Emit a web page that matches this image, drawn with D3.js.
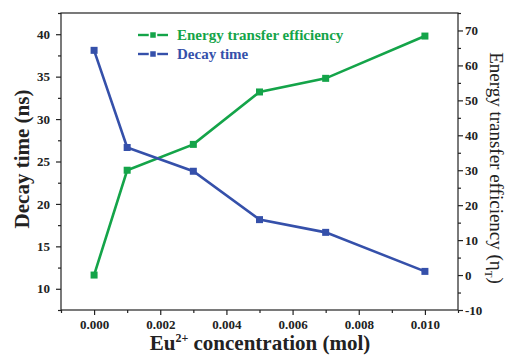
<!DOCTYPE html>
<html>
<head>
<meta charset="utf-8">
<script src="https://cdn.jsdelivr.net/npm/d3@7/dist/d3.min.js"></script>
<style>
  html, body { margin: 0; padding: 0; background: #fff; }
  svg { display: block; }
  text { font-family: "Liberation Serif", "Times New Roman", serif; }
</style>
</head>
<body>
<svg id="chart" width="506" height="356"></svg>
<script>
// Eu2+ concentration (mol)
const concentration = [0.000, 0.001, 0.003, 0.005, 0.007, 0.010];
// Decay time (ns), left axis
const decayTime = [38.1, 26.65, 23.85, 18.15, 16.65, 12.05];
// Energy transfer efficiency (%), right axis
const efficiency = [0.0, 30.0, 37.4, 52.4, 56.3, 68.4];

const xTicks = [0.000, 0.002, 0.004, 0.006, 0.008, 0.010];
const leftTicks = [10, 15, 20, 25, 30, 35, 40];
const rightTicks = [-10, 0, 10, 20, 30, 40, 50, 60, 70];

const GREEN = "#14a449";
const BLUE = "#3550aa";
const SERIF = "'Liberation Serif', 'Times New Roman', serif";

const svg = d3.select("#chart");
const m = { left: 61, right: 458, top: 13, bottom: 310 };

const x = d3.scaleLinear().domain([-0.001, 0.011]).range([m.left, m.right]);
const yL = d3.scaleLinear().domain([7.5, 42.5]).range([m.bottom, m.top]);
const yR = d3.scaleLinear().domain([-10, 75]).range([m.bottom, m.top]);

// minor ticks
const minorX = d3.range(-0.001, 0.0111, 0.002).map(v => +v.toFixed(4));
const minorL = d3.range(7.5, 42.6, 5);
const minorR = d3.range(-5, 75.1, 10);

function styleAxis(g) {
  g.attr("font-family", SERIF).attr("font-size", 13).attr("font-weight", "bold");
  g.selectAll("path").remove();
  g.selectAll("line").attr("stroke", "#222").attr("stroke-width", 1.2);
  g.selectAll("text").attr("fill", "#222");
}

// bottom axis
svg.append("g").attr("transform", `translate(0,${m.bottom})`)
  .call(d3.axisBottom(x).tickValues(minorX).tickSize(3).tickFormat(""))
  .call(styleAxis);
svg.append("g").attr("transform", `translate(0,${m.bottom})`)
  .call(d3.axisBottom(x).tickValues(xTicks).tickSize(5).tickPadding(5).tickFormat(d3.format(".3f")))
  .call(styleAxis);

// left axis
svg.append("g").attr("transform", `translate(${m.left},0)`)
  .call(d3.axisLeft(yL).tickValues(minorL).tickSize(3).tickFormat(""))
  .call(styleAxis);
svg.append("g").attr("transform", `translate(${m.left},0)`)
  .call(d3.axisLeft(yL).tickValues(leftTicks).tickSize(5).tickPadding(6))
  .call(styleAxis);

// right axis
svg.append("g").attr("transform", `translate(${m.right},0)`)
  .call(d3.axisRight(yR).tickValues(minorR).tickSize(3).tickFormat(""))
  .call(styleAxis);
svg.append("g").attr("transform", `translate(${m.right},0)`)
  .call(d3.axisRight(yR).tickValues(rightTicks).tickSize(5).tickPadding(2).tickFormat(d => d < 0 ? "-" + Math.abs(d) : d))
  .call(styleAxis);

// frame
svg.append("rect")
  .attr("x", m.left).attr("y", m.top)
  .attr("width", m.right - m.left).attr("height", m.bottom - m.top)
  .attr("fill", "none").attr("stroke", "#222").attr("stroke-width", 1.2);

// series
function drawSeries(vals, yScale, color) {
  const pts = concentration.map((c, i) => [x(c), yScale(vals[i])]);
  svg.append("path")
    .attr("d", d3.line()(pts))
    .attr("fill", "none").attr("stroke", color).attr("stroke-width", 2.6);
  svg.append("g").selectAll("rect").data(pts).join("rect")
    .attr("x", d => d[0] - 3.5).attr("y", d => d[1] - 3.5)
    .attr("width", 7).attr("height", 7).attr("fill", color);
}
drawSeries(efficiency, yR, GREEN);
drawSeries(decayTime, yL, BLUE);

// legend
const legend = [
  { label: "Energy transfer efficiency", color: GREEN, y: 35 },
  { label: "Decay time", color: BLUE, y: 54 }
];
legend.forEach(d => {
  svg.append("line").attr("x1", 138).attr("x2", 168).attr("y1", d.y).attr("y2", d.y)
    .attr("stroke", d.color).attr("stroke-width", 2.4);
  svg.append("rect").attr("x", 149.5).attr("y", d.y - 3.5).attr("width", 7).attr("height", 7)
    .attr("fill", d.color).attr("stroke", "#fff").attr("stroke-width", 1.5);
  svg.append("text").attr("x", 177).attr("y", d.y + 5)
    .attr("fill", d.color)
    .attr("font-family", SERIF).attr("font-size", 15).attr("font-weight", "bold")
    .text(d.label);
});

// axis titles
svg.append("text")
  .attr("transform", "translate(29,159) rotate(-90)")
  .attr("text-anchor", "middle")
  .attr("font-family", SERIF).attr("font-size", 21).attr("font-weight", "bold")
  .attr("fill", "#222")
  .text("Decay time (ns)");

const xt = svg.append("text")
  .attr("x", 260).attr("y", 350).attr("text-anchor", "middle")
  .attr("font-family", SERIF).attr("font-size", 21).attr("font-weight", "bold")
  .attr("fill", "#222");
xt.append("tspan").text("Eu");
xt.append("tspan").attr("dy", -8).attr("font-size", 12).text("2+");
xt.append("tspan").attr("dy", 8).text(" concentration (mol)");

const rt = svg.append("text")
  .attr("transform", "translate(490,168) rotate(90)")
  .attr("text-anchor", "middle")
  .attr("font-family", SERIF).attr("font-size", 19)
  .attr("fill", "#222");
rt.append("tspan").text("Energy transfer efficiency (η");
rt.append("tspan").attr("dy", 5).attr("font-size", 11).text("T");
rt.append("tspan").attr("dy", -5).text(")");
</script>
</body>
</html>
